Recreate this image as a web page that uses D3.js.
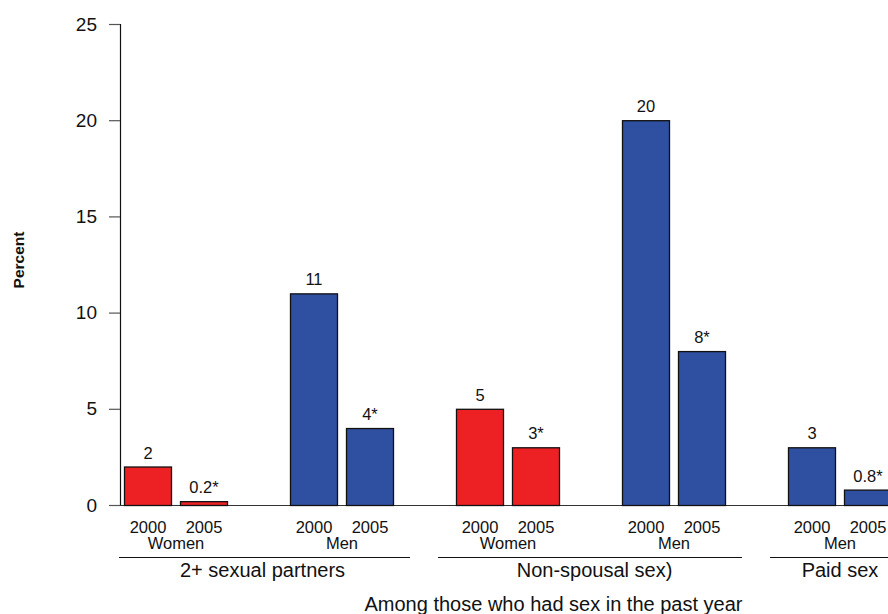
<!DOCTYPE html>
<html>
<head>
<meta charset="utf-8">
<script src="https://cdn.jsdelivr.net/npm/d3@7"></script>
<style>
  html, body { margin: 0; padding: 0; background: #fff; }
  svg { display: block; font-family: "Liberation Sans", Arial, Helvetica, sans-serif; }
</style>
</head>
<body>
<svg id="chart" width="888" height="614"></svg>
<script>
// Sexual behaviour indicators, percent, 2000 vs 2005
const pairs   = ["W-partners", "M-partners", "W-nonspousal", "M-nonspousal", "M-paid"];
const sexes   = ["Women", "Men", "Women", "Men", "Men"];
const years   = ["2000", "2005"];
const v2000   = [2, 11, 5, 20, 3];
const v2005   = [0.2, 4, 3, 8, 0.8];
const lab2000 = ["2", "11", "5", "20", "3"];
const lab2005 = ["0.2*", "4*", "3*", "8*", "0.8*"];
const groups      = ["2+ sexual partners", "Non-spousal sex)", "Paid sex"];
const groupPairs  = [[0, 1], [2, 3], [4, 4]];
const yTicks  = [0, 5, 10, 15, 20, 25];
const yTitle  = "Percent";
const xTitle  = "Among those who had sex in the past year";

const svg = d3.select("#chart");
const W = 888;
const RED = "#ED2124", BLUE = "#2F4FA0", INK = "#111";

const y = d3.scaleLinear().domain([0, 25]).range([505, 24]);
const x = d3.scaleBand().domain(pairs).range([124, 892])
  .paddingInner(62 / 166).paddingOuter(0);
const xi = d3.scaleBand().domain(years).range([0, x.bandwidth()])
  .paddingInner(8 / 56).paddingOuter(0);

// y axis
const yAxis = d3.axisLeft(y).tickValues(yTicks).tickSize(11).tickPadding(12)
  .tickFormat(d3.format("d"));
const ya = svg.append("g").attr("transform", "translate(120,0)").call(yAxis);
ya.select(".domain").attr("stroke", INK).attr("stroke-width", 1.2)
  .attr("d", `M0.5,${y(25)}V${y(0)}`);
ya.selectAll(".tick line").attr("stroke", "#555").attr("stroke-width", 1.2);
ya.selectAll(".tick text").attr("font-size", 19).attr("fill", INK)
  .attr("font-family", "Liberation Sans, Arial, sans-serif");

// baseline
svg.append("line").attr("x1", 120).attr("x2", W)
  .attr("y1", y(0) + 0.5).attr("y2", y(0) + 0.5)
  .attr("stroke", "#333").attr("stroke-width", 1.2);

// bars
const rows = [];
pairs.forEach((p, i) => {
  const col = sexes[i] === "Women" ? RED : BLUE;
  rows.push({ p, yr: "2000", v: v2000[i], lab: lab2000[i], col });
  rows.push({ p, yr: "2005", v: v2005[i], lab: lab2005[i], col });
});

const bars = svg.append("g");
bars.selectAll("rect").data(rows).enter().append("rect")
  .attr("x", d => x(d.p) + xi(d.yr) + 0.5)
  .attr("y", d => y(d.v) + 0.5)
  .attr("width", xi.bandwidth() - 1)
  .attr("height", d => y(0) - y(d.v))
  .attr("fill", d => d.col)
  .attr("stroke", "#111").attr("stroke-width", 1.3);

bars.selectAll("text.val").data(rows).enter().append("text")
  .attr("class", "val")
  .attr("x", d => x(d.p) + xi(d.yr) + xi.bandwidth() / 2)
  .attr("y", d => y(d.v) - 8)
  .attr("text-anchor", "middle").attr("font-size", 16.5).attr("fill", INK)
  .text(d => d.lab);

// year labels
bars.selectAll("text.yr").data(rows).enter().append("text")
  .attr("class", "yr")
  .attr("x", d => x(d.p) + xi(d.yr) + xi.bandwidth() / 2)
  .attr("y", 533)
  .attr("text-anchor", "middle").attr("font-size", 16.5).attr("fill", INK)
  .text(d => d.yr);

// sex labels
svg.append("g").selectAll("text").data(pairs).enter().append("text")
  .attr("x", d => x(d) + x.bandwidth() / 2)
  .attr("y", 549)
  .attr("text-anchor", "middle").attr("font-size", 16.5).attr("fill", INK)
  .text((d, i) => sexes[i]);

// group underlines and labels
const gl = svg.append("g");
const centers = groupPairs.map(([a, b]) => (x(pairs[a]) + x(pairs[b]) + x.bandwidth()) / 2);
const breaks = groupPairs.slice(0, -1).map(([a, b], gi) => {
  const nextFirst = pairs[groupPairs[gi + 1][0]];
  return (x(pairs[b]) + x.bandwidth() + x(nextFirst)) / 2;
});
groups.forEach((g, gi) => {
  const x1 = gi === 0 ? 119 : breaks[gi - 1] + 13;
  const x2 = gi === groups.length - 1 ? W : breaks[gi] - 15;
  gl.append("line").attr("x1", x1).attr("x2", x2)
    .attr("y1", 557.5).attr("y2", 557.5)
    .attr("stroke", INK).attr("stroke-width", 1.2);
  gl.append("text")
    .attr("x", centers[gi] + (gi === groups.length - 1 ? 0 : 3.5))
    .attr("y", 577)
    .attr("text-anchor", "middle").attr("font-size", 20).attr("fill", INK)
    .text(g);
});

// axis titles
svg.append("text")
  .attr("transform", "translate(24,260) rotate(-90)")
  .attr("text-anchor", "middle").attr("font-size", 15.5).attr("font-weight", "bold")
  .attr("fill", INK).text(yTitle);

svg.append("text")
  .attr("x", 553.5).attr("y", 611)
  .attr("text-anchor", "middle").attr("font-size", 20).attr("fill", INK)
  .text(xTitle);
</script>
</body>
</html>
